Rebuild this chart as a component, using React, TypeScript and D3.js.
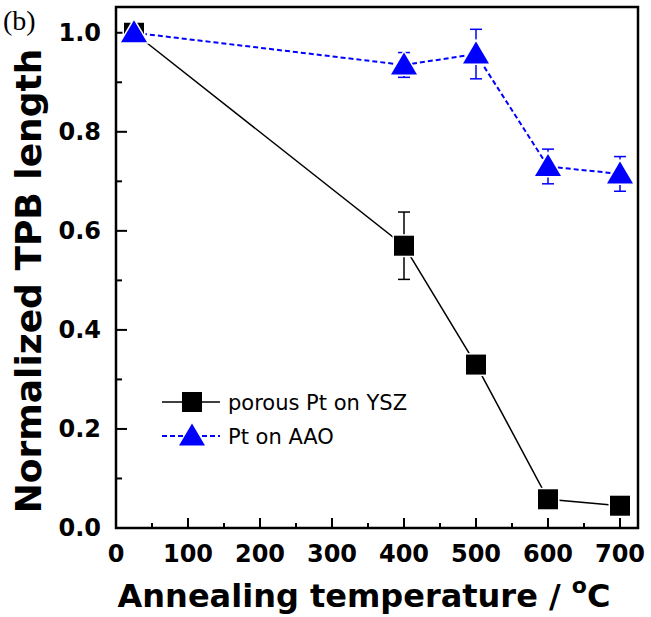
import React from "react";
import { scaleLinear, line, range } from "d3";

// annealing temperature (°C)
const temps = [25, 400, 500, 600, 700];
// porous Pt on YSZ
const yszValues = [1.0, 0.57, 0.33, 0.058, 0.045];
const yszErrors = [0, 0.068, 0, 0, 0];
// Pt on AAO
const aaoValues = [1.0, 0.935, 0.957, 0.73, 0.715];
const aaoErrors = [0, 0.025, 0.05, 0.035, 0.035];

const xTicks = [0, 100, 200, 300, 400, 500, 600, 700];
const yTicks = [0, 0.2, 0.4, 0.6, 0.8, 1.0];

const W = 651;
const H = 617;
const font = "'DejaVu Sans', Verdana, sans-serif";

export default function App() {
  const x = scaleLinear().domain([0, 725]).range([116, 638]);
  const y = scaleLinear().domain([0, 1.05]).range([528, 8]);

  const left = x.range()[0];
  const right = x.range()[1];
  const bottom = y.range()[0];
  const top = 7;

  const xMinor = range(50, 700, 100);
  const yMinor = [0.1, 0.3, 0.5, 0.7, 0.9];

  const ysz = temps.map((t, i) => ({ t, v: yszValues[i], e: yszErrors[i] }));
  const aao = temps.map((t, i) => ({ t, v: aaoValues[i], e: aaoErrors[i] }));

  const path = line<{ t: number; v: number }>()
    .x((d) => x(d.t))
    .y((d) => y(d.v));

  const sq = 20;
  const tri = (cx: number, cy: number) =>
    `M${cx},${cy - 12.5}L${cx + 13},${cy + 9.5}L${cx - 13},${cy + 9.5}Z`;

  const errBars = (data: typeof ysz, color: string) =>
    data
      .filter((d) => d.e > 0)
      .map((d, i) => {
        const cx = x(d.t);
        const y1 = y(d.v + d.e);
        const y2 = y(d.v - d.e);
        return (
          <g key={i} stroke={color} strokeWidth={1.5}>
            <line x1={cx} x2={cx} y1={y1} y2={y2} />
            <line x1={cx - 6} x2={cx + 6} y1={y1} y2={y1} />
            <line x1={cx - 6} x2={cx + 6} y1={y2} y2={y2} />
          </g>
        );
      });

  return (
    <svg
      width={W}
      height={H}
      style={{ position: "absolute", left: 0, top: 0, background: "white" }}
    >
      <rect width={W} height={H} fill="white" />

      {/* ticks, inward */}
      <g stroke="black" strokeWidth={2}>
        {xTicks.map((t) => (
          <line key={"xt" + t} x1={x(t)} x2={x(t)} y1={bottom} y2={bottom - 10} />
        ))}
        {xMinor.map((t) => (
          <line key={"xm" + t} x1={x(t)} x2={x(t)} y1={bottom} y2={bottom - 5} />
        ))}
        {yTicks.map((t) => (
          <line key={"yt" + t} x1={left} x2={left + 11} y1={y(t)} y2={y(t)} />
        ))}
        {yMinor.map((t) => (
          <line key={"ym" + t} x1={left} x2={left + 6} y1={y(t)} y2={y(t)} />
        ))}
      </g>

      <rect
        x={left}
        y={top}
        width={right - left}
        height={bottom - top}
        fill="none"
        stroke="black"
        strokeWidth={2.5}
      />

      {/* tick labels */}
      <g fontFamily={font} fontWeight="bold" fontSize={24} fill="black">
        {xTicks.map((t) => (
          <text key={"xl" + t} x={x(t)} y={562} textAnchor="middle">
            {t}
          </text>
        ))}
        {yTicks.map((t) => (
          <text key={"yl" + t} x={101} y={y(t) + 8} textAnchor="end">
            {t.toFixed(1)}
          </text>
        ))}
      </g>

      {/* axis titles */}
      <text
        transform={`translate(41, 281) rotate(-90)`}
        textAnchor="middle"
        fontFamily={font}
        fontWeight="bold"
        fontSize={36}
      >
        Normalized TPB length
      </text>
      <text
        x={364}
        y={607}
        textAnchor="middle"
        fontFamily={font}
        fontWeight="bold"
        fontSize={32}
      >
        Annealing temperature /{" "}
        <tspan fontSize={22} dy={-14}>o</tspan>
        <tspan dy={14}>C</tspan>
      </text>

      <text x={3} y={30} fontFamily="'Liberation Serif', serif" fontSize={28}>
        (b)
      </text>

      {/* series lines */}
      <path d={path(ysz) || ""} fill="none" stroke="black" strokeWidth={1.5} />
      <path
        d={path(aao) || ""}
        fill="none"
        stroke="#0000ff"
        strokeWidth={2}
        strokeDasharray="5,3"
      />

      {errBars(ysz, "black")}
      {errBars(aao, "#0000ff")}

      {/* markers */}
      {ysz.map((d, i) => (
        <rect
          key={"s" + i}
          x={x(d.t) - sq / 2}
          y={y(d.v) - sq / 2}
          width={sq}
          height={sq}
          fill="black"
          stroke="white"
          strokeWidth={3}
          style={{ paintOrder: "stroke" }}
        />
      ))}
      {aao.map((d, i) => (
        <path
          key={"t" + i}
          d={tri(x(d.t), y(d.v))}
          fill="#0000ff"
          stroke="white"
          strokeWidth={3}
          style={{ paintOrder: "stroke" }}
        />
      ))}

      {/* legend */}
      <g fontFamily={font} fontSize={21}>
        <line x1={162} x2={220} y1={402} y2={402} stroke="black" strokeWidth={1.5} />
        <rect x={192 - sq / 2} y={402 - sq / 2} width={sq} height={sq} fill="black" />
        <text x={228} y={410}>porous Pt on YSZ</text>
        <line
          x1={162}
          x2={220}
          y1={436}
          y2={436}
          stroke="#0000ff"
          strokeWidth={2}
          strokeDasharray="5,3"
        />
        <path d={tri(192, 436)} fill="#0000ff" />
        <text x={228} y={444}>Pt on AAO</text>
      </g>
    </svg>
  );
}
